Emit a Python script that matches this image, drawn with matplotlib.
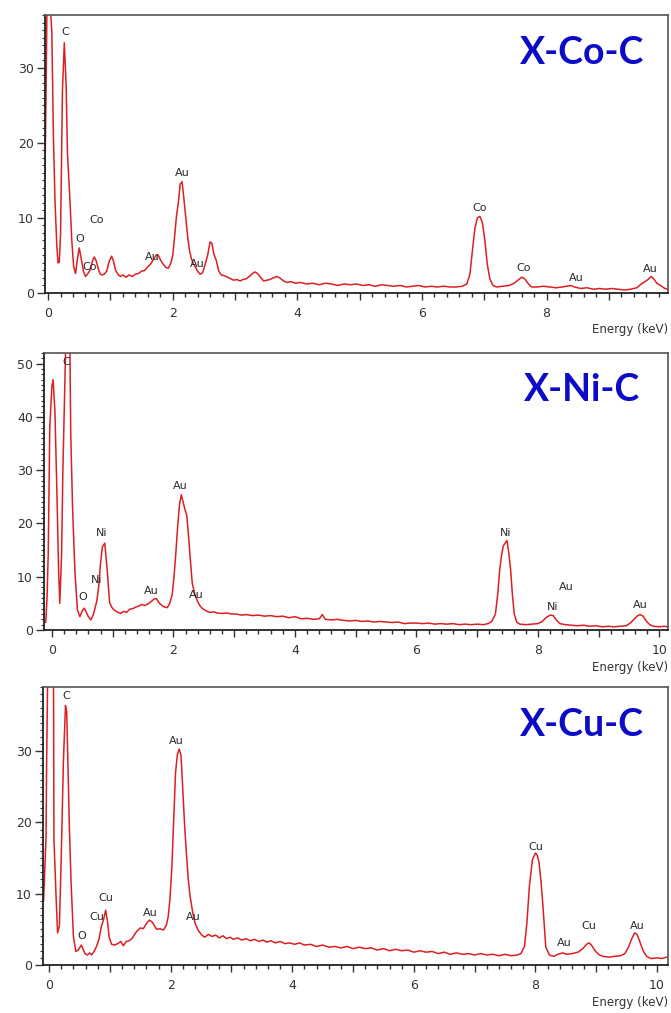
import matplotlib
matplotlib.use("Agg")
import matplotlib.pyplot as plt
from matplotlib.ticker import MultipleLocator, FuncFormatter

# EDS spectra: (energy keV, counts)
co_spectrum = [
    (-0.05, 15.5), (-0.04, 22), (-0.03, 29), (-0.01, 45), (0.06, 34.6), (0.085, 20.8),
    (0.11, 12.4), (0.14, 6.2), (0.16, 4.0), (0.18, 4.1), (0.2, 8), (0.23, 27), (0.26, 33.3),
    (0.29, 27.5), (0.31, 18.7), (0.35, 12.4), (0.38, 7), (0.41, 3.5), (0.44, 2.6), (0.47, 4.5),
    (0.5, 6.0), (0.54, 4.2), (0.57, 2.8), (0.6, 2.2), (0.64, 2.6), (0.67, 3.0), (0.71, 4.2),
    (0.74, 4.8), (0.77, 4.3), (0.8, 3.4), (0.83, 2.6), (0.86, 2.4), (0.9, 2.5), (0.94, 2.9),
    (0.98, 4.2), (1.02, 4.9), (1.05, 4.2), (1.08, 3.1), (1.12, 2.5), (1.16, 2.2), (1.2, 2.4),
    (1.25, 2.1), (1.3, 2.4), (1.35, 2.2), (1.4, 2.5), (1.45, 2.6), (1.5, 2.9), (1.55, 3.0),
    (1.6, 3.5), (1.65, 3.9), (1.7, 4.6), (1.74, 5.1), (1.77, 5.0), (1.81, 4.3), (1.85, 3.8),
    (1.89, 3.4), (1.93, 3.3), (1.97, 4.0), (2.0, 5.0), (2.03, 7.5), (2.06, 10.2), (2.09, 12.0),
    (2.12, 14.5), (2.15, 14.8), (2.18, 12.5), (2.21, 10), (2.24, 7.5), (2.27, 5.6), (2.3, 4.6),
    (2.33, 3.9), (2.36, 3.5), (2.4, 2.9), (2.44, 2.5), (2.48, 2.7), (2.52, 3.8), (2.56, 5.0),
    (2.6, 6.8), (2.63, 6.6), (2.66, 5.2), (2.7, 4.3), (2.74, 2.9), (2.78, 2.4), (2.83, 2.3),
    (2.88, 2.1), (2.93, 1.9), (2.98, 1.7), (3.03, 1.8), (3.08, 1.6), (3.13, 1.8), (3.18, 1.9),
    (3.23, 2.2), (3.28, 2.6), (3.32, 2.8), (3.36, 2.6), (3.41, 2.1), (3.46, 1.6), (3.51, 1.7),
    (3.56, 1.8), (3.61, 2.0), (3.67, 2.2), (3.72, 2.0), (3.78, 1.6), (3.83, 1.4), (3.9, 1.5),
    (3.97, 1.3), (4.05, 1.4), (4.15, 1.2), (4.25, 1.3), (4.35, 1.1), (4.45, 1.3), (4.55, 1.2),
    (4.65, 1.0), (4.75, 1.2), (4.85, 1.1), (4.95, 1.2), (5.05, 1.0), (5.15, 1.1), (5.25, 0.9),
    (5.35, 1.1), (5.45, 1.0), (5.55, 0.9), (5.65, 1.0), (5.75, 0.8), (5.85, 0.9), (5.95, 1.0),
    (6.05, 0.8), (6.15, 0.9), (6.25, 0.8), (6.35, 0.9), (6.45, 0.8), (6.55, 0.8), (6.65, 0.9),
    (6.72, 1.2), (6.77, 2.5), (6.81, 5.5), (6.85, 8.6), (6.89, 10.0), (6.93, 10.2), (6.97, 9.4),
    (7.01, 7.0), (7.05, 3.8), (7.09, 1.9), (7.14, 1.0), (7.2, 0.8), (7.3, 0.9), (7.4, 1.0),
    (7.48, 1.3), (7.54, 1.7), (7.6, 2.1), (7.65, 1.9), (7.7, 1.3), (7.76, 0.8), (7.85, 0.8),
    (7.95, 0.9), (8.05, 0.8), (8.15, 0.7), (8.25, 0.8), (8.33, 0.9), (8.39, 1.0), (8.45, 0.8),
    (8.55, 0.6), (8.65, 0.7), (8.75, 0.5), (8.85, 0.6), (8.95, 0.5), (9.05, 0.6), (9.15, 0.5),
    (9.25, 0.4), (9.35, 0.5), (9.45, 0.7), (9.52, 1.2), (9.58, 1.5), (9.63, 1.8), (9.68, 2.2),
    (9.72, 1.9), (9.77, 1.3), (9.83, 1.0), (9.9, 0.6), (9.95, 0.5),
]

ni_spectrum = [
    (-0.14, 1.3), (-0.1, 1.5), (-0.08, 6.2), (-0.06, 14.5), (-0.035, 38), (0.0, 45.7),
    (0.02, 47), (0.05, 41), (0.08, 27), (0.11, 11.3), (0.13, 5.0), (0.16, 14.5), (0.18, 29.5),
    (0.21, 44.5), (0.24, 60), (0.29, 60), (0.31, 37), (0.34, 23), (0.38, 10.7), (0.42, 3.8),
    (0.46, 2.5), (0.5, 3.6), (0.53, 4.1), (0.56, 3.5), (0.6, 2.5), (0.64, 1.9), (0.68, 2.8),
    (0.71, 4.1), (0.74, 5.5), (0.77, 8.1), (0.8, 12.5), (0.83, 15.6), (0.87, 16.3), (0.91, 11.3),
    (0.95, 5.1), (0.99, 4.2), (1.02, 3.8), (1.07, 3.4), (1.13, 3.1), (1.18, 3.5), (1.23, 3.3),
    (1.28, 3.9), (1.33, 4.0), (1.38, 4.3), (1.43, 4.5), (1.48, 4.8), (1.53, 4.6), (1.58, 4.9),
    (1.63, 5.3), (1.68, 5.8), (1.72, 5.9), (1.77, 5.0), (1.81, 4.6), (1.86, 4.3), (1.9, 4.2),
    (1.94, 5.0), (1.98, 6.7), (2.01, 10), (2.04, 14.5), (2.07, 19.5), (2.1, 23.5), (2.13, 25.4),
    (2.16, 24.0), (2.19, 22.6), (2.22, 21.5), (2.25, 17.5), (2.28, 13.0), (2.31, 8.8),
    (2.35, 6.8), (2.4, 5.3), (2.44, 4.5), (2.48, 4.0), (2.54, 3.6), (2.6, 3.3), (2.66, 3.4),
    (2.72, 3.2), (2.8, 3.1), (2.88, 3.2), (2.95, 3.0), (3.03, 3.0), (3.12, 2.8), (3.2, 2.9),
    (3.3, 2.7), (3.4, 2.8), (3.5, 2.6), (3.6, 2.7), (3.7, 2.5), (3.8, 2.6), (3.9, 2.3),
    (4.0, 2.5), (4.1, 2.1), (4.2, 2.2), (4.3, 2.0), (4.4, 2.1), (4.45, 2.9), (4.5, 2.0),
    (4.6, 1.9), (4.7, 2.0), (4.8, 1.8), (4.9, 1.7), (5.0, 1.8), (5.1, 1.6), (5.2, 1.7),
    (5.3, 1.5), (5.4, 1.6), (5.5, 1.5), (5.6, 1.4), (5.7, 1.5), (5.8, 1.2), (5.9, 1.3),
    (6.0, 1.3), (6.1, 1.2), (6.2, 1.3), (6.3, 1.1), (6.4, 1.2), (6.5, 1.1), (6.6, 1.2),
    (6.7, 1.0), (6.8, 1.1), (6.9, 1.0), (7.0, 1.1), (7.1, 1.0), (7.18, 1.2), (7.24, 1.6),
    (7.3, 3.0), (7.34, 7.0), (7.37, 11.3), (7.4, 14.0), (7.43, 15.8), (7.46, 16.3), (7.49, 16.8),
    (7.52, 14.5), (7.55, 11.3), (7.58, 6.5), (7.61, 3.0), (7.65, 1.5), (7.7, 1.1), (7.8, 1.0),
    (7.9, 1.1), (8.0, 1.2), (8.07, 1.6), (8.13, 2.3), (8.2, 2.8), (8.25, 2.7), (8.3, 1.9),
    (8.36, 1.2), (8.45, 1.0), (8.55, 0.9), (8.65, 0.8), (8.75, 0.9), (8.85, 0.7), (8.95, 0.8),
    (9.05, 0.6), (9.15, 0.7), (9.25, 0.6), (9.35, 0.7), (9.45, 0.8), (9.52, 1.3), (9.58, 2.0),
    (9.63, 2.6), (9.68, 2.9), (9.73, 2.6), (9.78, 1.7), (9.84, 1.0), (9.9, 0.7), (10.0, 0.6),
    (10.08, 0.7), (10.14, 0.6),
]

cu_spectrum = [
    (-0.09, 9), (-0.05, 18), (-0.04, 28.5), (-0.01, 50), (0.07, 50), (0.08, 17.6),
    (0.115, 9.6), (0.14, 4.5), (0.17, 5.5), (0.2, 15.2), (0.235, 28.4), (0.27, 36.4),
    (0.29, 35.5), (0.31, 28.4), (0.335, 19), (0.36, 12), (0.4, 4.0), (0.44, 1.9), (0.48, 2.1),
    (0.53, 2.8), (0.56, 2.2), (0.59, 1.6), (0.63, 1.4), (0.67, 1.7), (0.7, 1.4), (0.74, 1.9),
    (0.78, 2.6), (0.82, 3.6), (0.86, 5.4), (0.9, 6.5), (0.93, 7.7), (0.96, 6.2), (0.99, 3.8),
    (1.03, 2.9), (1.08, 2.8), (1.13, 3.0), (1.18, 3.3), (1.22, 2.7), (1.27, 3.3), (1.32, 3.4),
    (1.37, 3.8), (1.41, 4.3), (1.44, 4.7), (1.5, 5.2), (1.55, 5.1), (1.6, 5.8), (1.65, 6.3),
    (1.7, 6.0), (1.74, 5.4), (1.77, 5.0), (1.82, 5.1), (1.88, 4.9), (1.93, 5.6), (1.96, 6.8),
    (1.99, 9.5), (2.02, 13.8), (2.05, 20.5), (2.08, 27), (2.11, 29.5), (2.14, 30.3),
    (2.17, 29.4), (2.2, 24.5), (2.23, 19.5), (2.26, 15.5), (2.29, 12.0), (2.32, 9.6),
    (2.36, 7.5), (2.4, 5.9), (2.45, 4.9), (2.51, 4.2), (2.56, 3.9), (2.62, 4.3), (2.68, 4.0),
    (2.74, 4.2), (2.8, 3.8), (2.86, 4.1), (2.92, 3.7), (2.98, 3.9), (3.03, 3.6), (3.1, 3.8),
    (3.17, 3.5), (3.24, 3.7), (3.31, 3.4), (3.38, 3.6), (3.45, 3.3), (3.52, 3.5), (3.58, 3.2),
    (3.65, 3.4), (3.72, 3.1), (3.8, 3.3), (3.88, 3.0), (3.96, 3.1), (4.04, 2.9), (4.12, 3.1),
    (4.2, 2.8), (4.3, 2.9), (4.4, 2.6), (4.5, 2.8), (4.6, 2.5), (4.7, 2.6), (4.8, 2.4),
    (4.9, 2.6), (5.0, 2.3), (5.1, 2.5), (5.2, 2.3), (5.3, 2.4), (5.4, 2.1), (5.5, 2.3),
    (5.6, 2.0), (5.7, 2.2), (5.8, 2.0), (5.9, 2.1), (6.0, 1.8), (6.1, 2.0), (6.2, 1.8),
    (6.3, 1.9), (6.4, 1.6), (6.5, 1.8), (6.6, 1.5), (6.7, 1.7), (6.8, 1.5), (6.9, 1.6),
    (7.0, 1.4), (7.1, 1.6), (7.2, 1.4), (7.3, 1.5), (7.4, 1.3), (7.5, 1.5), (7.6, 1.3),
    (7.7, 1.4), (7.76, 1.6), (7.82, 2.6), (7.86, 6.0), (7.9, 11.0), (7.95, 14.8), (8.0, 15.7),
    (8.03, 15.4), (8.06, 14.3), (8.09, 11.8), (8.12, 8.6), (8.15, 5.0), (8.17, 2.5),
    (8.23, 1.4), (8.3, 1.2), (8.37, 1.5), (8.45, 1.7), (8.52, 1.5), (8.6, 1.6), (8.7, 1.8),
    (8.78, 2.3), (8.84, 2.9), (8.88, 3.1), (8.92, 2.8), (8.98, 2.0), (9.05, 1.4), (9.12, 1.2),
    (9.2, 1.1), (9.3, 1.2), (9.4, 1.3), (9.47, 1.6), (9.53, 2.5), (9.58, 3.6), (9.63, 4.5),
    (9.67, 4.3), (9.72, 3.2), (9.77, 2.0), (9.83, 1.2), (9.9, 0.9), (10.0, 1.0), (10.08, 0.9),
    (10.15, 1.1),
]

# element labels: (text, energy, counts)
co_labels = [("C", 0.27, 34.7), ("Co", 0.78, 9.7), ("O", 0.51, 7.2), ("Co", 0.67, 3.5),
             ("Au", 1.67, 4.8), ("Au", 2.15, 16.0), ("Au", 2.40, 3.9), ("Co", 6.92, 11.3),
             ("Co", 7.63, 3.3), ("Au", 8.48, 2.0), ("Au", 9.67, 3.2)]
ni_labels = [("C", 0.24, 50.4), ("Ni", 0.82, 18.2), ("Ni", 0.74, 9.4), ("O", 0.50, 6.2),
             ("Au", 1.64, 7.3), ("Au", 2.11, 27.0), ("Au", 2.38, 6.6), ("Ni", 7.47, 18.2),
             ("Au", 8.46, 8.1), ("Ni", 8.24, 4.4), ("Au", 9.69, 4.7)]
cu_labels = [("C", 0.29, 37.8), ("Au", 2.10, 31.4), ("Cu", 0.94, 9.4), ("Cu", 0.78, 6.8),
             ("O", 0.54, 4.1), ("Au", 1.66, 7.3), ("Au", 2.38, 6.8), ("Cu", 8.01, 16.6),
             ("Au", 8.47, 3.1), ("Cu", 8.88, 5.5), ("Au", 9.67, 5.5)]

titles = ["X-Co-C", "X-Ni-C", "X-Cu-C"]
xlims = [(-0.05, 9.95), (-0.13, 10.14), (-0.10, 10.18)]
ylims = [(0, 37), (0, 52), (0, 39)]

W, H = 671, 1013
boxes = [(45, 15, 623, 278), (44, 353, 624, 277), (43, 687, 625, 278)]  # px: left, top, w, h

fig = plt.figure(figsize=(W / 100, H / 100), dpi=100)
line_col = "#dc1f24"
txt_col = "#2a2a2a"

panels = [(co_spectrum, co_labels), (ni_spectrum, ni_labels), (cu_spectrum, cu_labels)]
for i, (spec, labels) in enumerate(panels):
    l, t, w, h = boxes[i]
    ax = fig.add_axes([l / W, 1 - (t + h) / H, w / W, h / H])
    e = [p[0] for p in spec]
    c = [p[1] for p in spec]
    ax.plot(e, c, color=line_col, lw=1.1)
    ax.set_xlim(*xlims[i])
    ax.set_ylim(*ylims[i])

    for name, x, y in labels:
        ax.text(x, y, name, ha="center", va="center", fontsize=8, color=txt_col)

    ax.text(0.862, 0.865, titles[i], transform=ax.transAxes, ha="center", va="center",
            fontsize=27, fontweight="bold", family="Lato", color="#0b0bc8")

    ax.annotate("Energy (keV)", xy=(1.0, 0), xycoords="axes fraction",
                xytext=(0, -37), textcoords="offset pixels", ha="right", va="center",
                fontsize=8.5, color="#333333")

    ax.xaxis.set_major_locator(MultipleLocator(1))
    ax.xaxis.set_minor_locator(MultipleLocator(0.2))
    ax.xaxis.set_major_formatter(FuncFormatter(lambda v, p: "%d" % round(v) if round(v) % 2 == 0 else ""))
    ax.yaxis.set_major_locator(MultipleLocator(10))
    ax.yaxis.set_minor_locator(MultipleLocator(1))

    ax.tick_params(axis="x", which="major", direction="out", length=5, width=1,
                   labelsize=9, pad=5, colors="#333333")
    ax.tick_params(axis="x", which="minor", direction="out", length=3, width=1, color="#333333")
    ax.tick_params(axis="y", which="major", direction="out", length=6, width=1,
                   labelsize=9, pad=2, colors="#333333")
    ax.tick_params(axis="y", which="minor", direction="out", length=2.5, width=0.8, color="#333333")

    for s in ["left", "bottom"]:
        ax.spines[s].set_color("#222222")
        ax.spines[s].set_linewidth(1.3)
    for s in ["top", "right"]:
        ax.spines[s].set_color("#555555")
        ax.spines[s].set_linewidth(1.2)

fig.savefig("out.png", dpi=100)
